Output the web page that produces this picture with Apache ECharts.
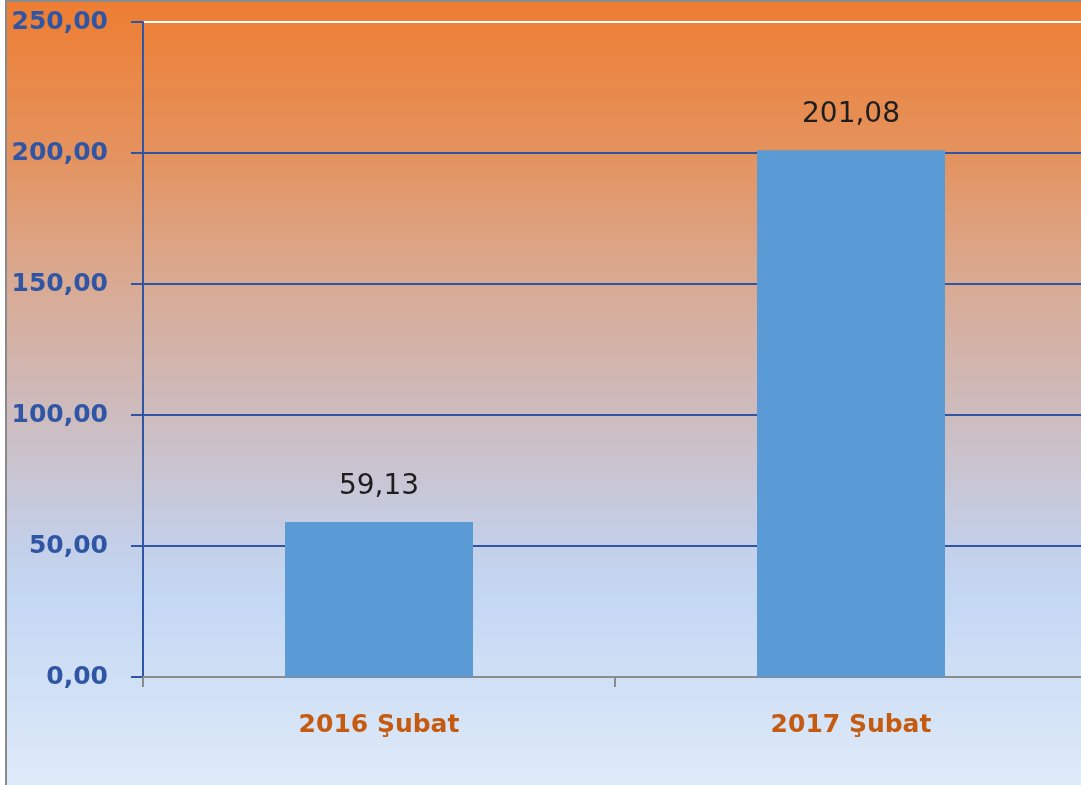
<!DOCTYPE html>
<html>
<head>
<meta charset="utf-8">
<script src="https://cdn.jsdelivr.net/npm/echarts@6/dist/echarts.min.js"></script>
<style>
  html, body { margin: 0; padding: 0; background: #fff; }
  #myChart { width: 1081px; height: 785px; }
</style>
</head>
<body>
<div id="myChart"></div>
<script>
// veriler
var categories = ['2016 Şubat', '2017 Şubat'];
var values = [59.13, 201.08];
var yTicks = [0, 50, 100, 150, 200, 250];

function fmt(v) {
  return v.toFixed(2).replace('.', ',');
}

var myChart = echarts.init(document.getElementById('myChart'));
var option = {
  backgroundColor: new echarts.graphic.LinearGradient(0, 0, 0, 1, [
    { offset: 0, color: '#EE7D31' },
    { offset: 0.2, color: '#E4935F' },
    { offset: 0.36, color: '#D9AA93' },
    { offset: 0.53, color: '#CDBCBF' },
    { offset: 0.69, color: '#C4CFE8' },
    { offset: 0.76, color: '#C4D7F3' },
    { offset: 1, color: '#DEEAF8' }
  ]),
  animation: false,
  grid: { left: 143, right: -6, top: 22, bottom: 108, outerBoundsMode: 'none', containLabel: false },
  xAxis: {
    type: 'category',
    data: categories,
    axisLine: { lineStyle: { color: '#8C8C8C', width: 2 } },
    axisTick: { show: true, length: 10, lineStyle: { color: '#8C8C8C', width: 2 } },
    axisLabel: {
      margin: 36,
      color: '#C55A11',
      fontFamily: 'DejaVu Sans',
      fontWeight: 'bold',
      fontSize: 25
    },
    splitLine: { show: false }
  },
  yAxis: {
    type: 'value',
    min: yTicks[0],
    max: yTicks[yTicks.length - 1],
    interval: 50,
    axisLine: { show: true, lineStyle: { color: '#2F55A4', width: 2 } },
    axisTick: { show: true, length: 12, lineStyle: { color: '#2F55A4', width: 2 } },
    axisLabel: {
      margin: 35,
      color: '#2F55A4',
      fontFamily: 'DejaVu Sans',
      fontWeight: 'bold',
      fontSize: 25,
      formatter: function (v) { return fmt(v); }
    },
    splitLine: {
      show: true,
      lineStyle: {
        color: ['#2F55A4', '#2F55A4', '#2F55A4', '#2F55A4', '#2F55A4', '#FFFFFF'],
        width: 2
      }
    }
  },
  series: [{
    type: 'bar',
    data: values,
    barWidth: 188,
    itemStyle: { color: '#5B9BD5' },
    label: {
      show: true,
      position: 'top',
      distance: 21,
      color: '#1E1E1E',
      fontFamily: 'DejaVu Sans',
      fontSize: 28,
      formatter: function (p) { return fmt(p.value); }
    }
  }],
  graphic: [
    { type: 'rect', shape: { x: 0, y: 0, width: 5, height: 785 }, style: { fill: '#FFFFFF' }, z: 100 },
    { type: 'rect', shape: { x: 5, y: 0, width: 2, height: 785 }, style: { fill: '#8A8A8A' }, z: 100 },
    { type: 'rect', shape: { x: 5, y: 0, width: 1076, height: 2 }, style: { fill: '#8A8A8A' }, z: 100 }
  ]
};
myChart.setOption(option);
</script>
</body>
</html>
